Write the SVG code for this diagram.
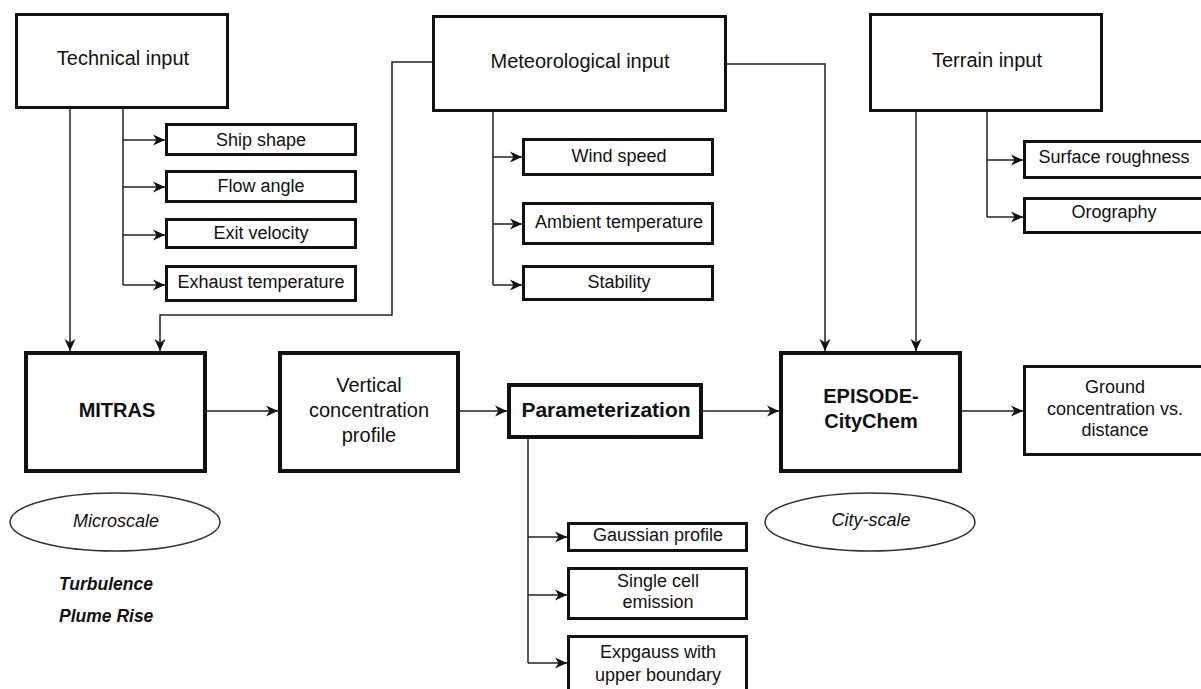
<svg xmlns="http://www.w3.org/2000/svg" width="1201" height="689" viewBox="0 0 1201 689">
<defs>
<marker id="arr" markerUnits="userSpaceOnUse" markerWidth="14" markerHeight="14" refX="12" refY="7" orient="auto">
<path d="M0,1.5 L12,7 L0,12.5 L3.5,7 Z" fill="#111"/>
</marker>
<style>
.box{fill:#fff;stroke:#111;stroke-width:3}
.big{fill:#fff;stroke:#111;stroke-width:4}
.ell{fill:#fff;stroke:#333;stroke-width:1.5}
.ln{fill:none;stroke:#222;stroke-width:1.5}
.ar{fill:none;stroke:#222;stroke-width:1.5;marker-end:url(#arr)}
text{font-family:"Liberation Sans",Arial,sans-serif;fill:#111;text-anchor:middle}
.h{font-size:20px}
.s{font-size:18px}
.b{font-size:20px;font-weight:bold}
.i{font-size:18px;font-style:italic}
.bi{font-size:17.5px;font-weight:bold;font-style:italic;text-anchor:start}
</style>
</defs>
<rect width="1201" height="689" fill="#fff"/>
<g id="connectors">
<path class="ar" d="M70,109 V351"/>
<path class="ln" d="M123,109 V285"/>
<path class="ar" d="M123,140 H165"/>
<path class="ar" d="M123,187 H165"/>
<path class="ar" d="M123,235 H165"/>
<path class="ar" d="M123,285 H165"/>
<path class="ar" d="M432,62 H392 V315 H160 V351"/>
<path class="ar" d="M727,64 H825 V351"/>
<path class="ln" d="M493,112 V285"/>
<path class="ar" d="M493,157 H522"/>
<path class="ar" d="M493,224 H522"/>
<path class="ar" d="M493,285 H522"/>
<path class="ar" d="M916,112 V351"/>
<path class="ln" d="M987,112 V217"/>
<path class="ar" d="M987,160 H1023"/>
<path class="ar" d="M987,217 H1023"/>
<path class="ar" d="M207,411 H278"/>
<path class="ar" d="M460,411 H507"/>
<path class="ar" d="M703,411 H779"/>
<path class="ar" d="M962,411 H1023"/>
<path class="ln" d="M528,439 V663"/>
<path class="ar" d="M528,537 H567"/>
<path class="ar" d="M528,595 H567"/>
<path class="ar" d="M528,663 H567"/>
</g>
<g id="technical-input"><rect class="box" x="16.5" y="14.5" width="211" height="93"/><text class="h" x="123" y="65">Technical input</text></g>
<g id="ship-shape"><rect class="box" x="166.5" y="124.5" width="189" height="30"/><text class="s" x="261" y="146">Ship shape</text></g>
<g id="flow-angle"><rect class="box" x="166.5" y="171.5" width="189" height="30"/><text class="s" x="261" y="192">Flow angle</text></g>
<g id="exit-velocity"><rect class="box" x="166.5" y="219.5" width="189" height="28"/><text class="s" x="261" y="239">Exit velocity</text></g>
<g id="exhaust-temperature"><rect class="box" x="166.5" y="266.5" width="189" height="34"/><text class="s" x="261" y="288">Exhaust temperature</text></g>
<g id="meteorological-input"><rect class="box" x="433.5" y="16.5" width="292" height="94"/><text class="h" x="580" y="68">Meteorological input</text></g>
<g id="wind-speed"><rect class="box" x="523.5" y="139.5" width="189" height="35"/><text class="s" x="619" y="162">Wind speed</text></g>
<g id="ambient-temperature"><rect class="box" x="523.5" y="203.5" width="189" height="40"/><text class="s" x="619" y="228">Ambient temperature</text></g>
<g id="stability"><rect class="box" x="523.5" y="266.5" width="189" height="33"/><text class="s" x="619" y="288">Stability</text></g>
<g id="terrain-input"><rect class="box" x="870.5" y="14.5" width="231" height="96"/><text class="h" x="987" y="67">Terrain input</text></g>
<g id="surface-roughness"><rect class="box" x="1024.5" y="141.5" width="185" height="36"/><text class="s" x="1114" y="163">Surface roughness</text></g>
<g id="orography"><rect class="box" x="1024.5" y="198.5" width="185" height="34"/><text class="s" x="1114" y="218">Orography</text></g>
<g id="mitras"><rect class="big" x="26" y="353" width="179" height="118"/><text class="b" x="117" y="417">MITRAS</text></g>
<g id="vertical-profile"><rect class="big" x="280" y="353" width="178" height="118"/><text class="h" x="369" y="392">Vertical</text><text class="h" x="369" y="417">concentration</text><text class="h" x="369" y="442">profile</text></g>
<g id="parameterization"><rect class="big" x="509" y="385" width="192" height="52"/><text class="b" x="606" y="417" style="font-size:21px">Parameterization</text></g>
<g id="episode-citychem"><rect class="big" x="781" y="353" width="179" height="118"/><text class="b" x="871" y="403">EPISODE-</text><text class="b" x="871" y="428">CityChem</text></g>
<g id="ground-concentration"><rect class="box" x="1024.5" y="366.5" width="185" height="88"/><text class="s" x="1115" y="393">Ground</text><text class="s" x="1115" y="415">concentration vs.</text><text class="s" x="1115" y="436">distance</text></g>
<g id="gaussian-profile"><rect class="box" x="568.5" y="523.5" width="178" height="27"/><text class="s" x="658" y="541">Gaussian profile</text></g>
<g id="single-cell"><rect class="box" x="568.5" y="568.5" width="178" height="50"/><text class="s" x="658" y="587">Single cell</text><text class="s" x="658" y="608">emission</text></g>
<g id="expgauss"><rect class="box" x="568.5" y="636.5" width="178" height="70"/><text class="s" x="658" y="658">Expgauss with</text><text class="s" x="658" y="681">upper boundary</text></g>
<g id="microscale"><ellipse class="ell" cx="115" cy="522" rx="105" ry="29"/><text class="i" x="116" y="527">Microscale</text></g>
<g id="city-scale"><ellipse class="ell" cx="870" cy="522" rx="105" ry="29"/><text class="i" x="871" y="526">City-scale</text></g>
<g id="notes"><text class="bi" x="59" y="590">Turbulence</text><text class="bi" x="59" y="622">Plume Rise</text></g>
</svg>
